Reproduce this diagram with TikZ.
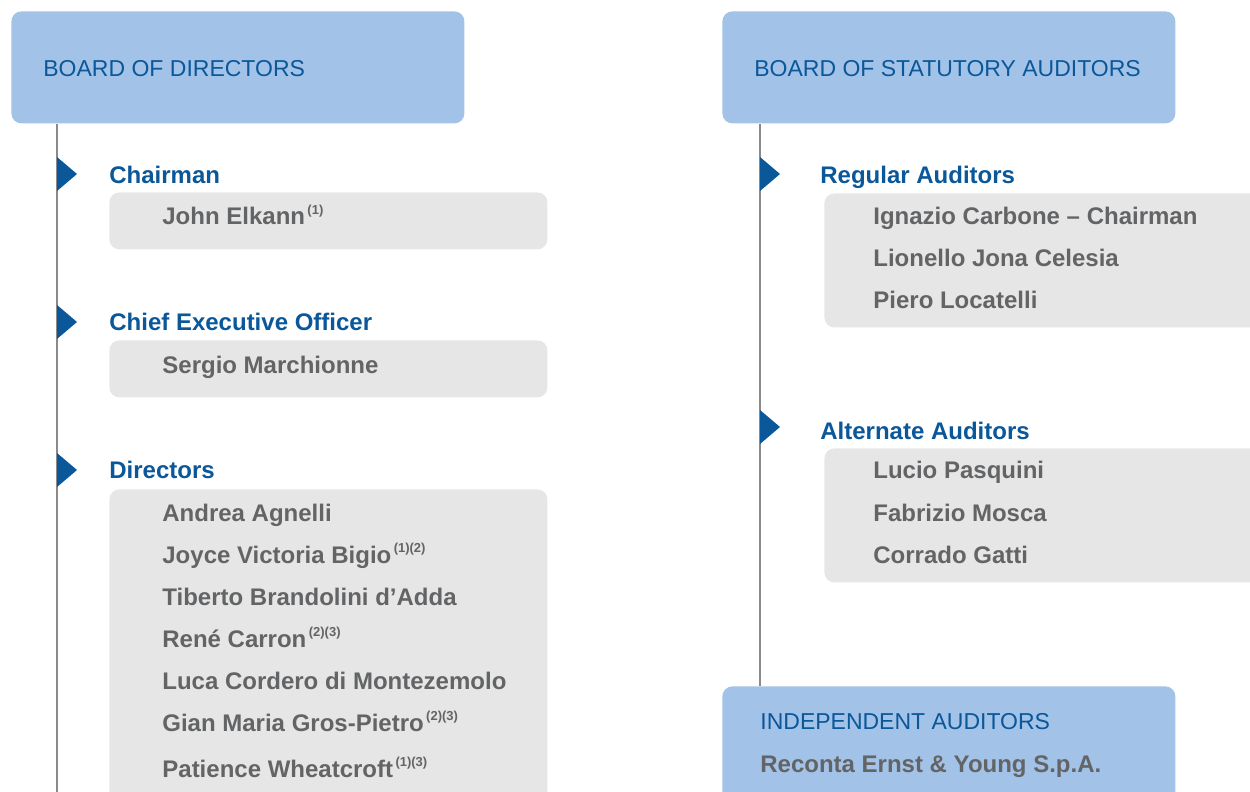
\documentclass[tikz,border=0pt]{standalone}
\usepackage{fontspec}
\setmainfont{Liberation Sans}
\definecolor{hdrfill}{HTML}{A3C2E7}
\definecolor{blu}{HTML}{0A5799}
\definecolor{gtxt}{HTML}{636466}
\definecolor{gfill}{HTML}{E6E6E6}
\definecolor{vl}{HTML}{8A8A8A}
\newcommand{\fnote}[1]{\kern1.2pt\raisebox{0.8ex}{\fontsize{6.5}{7}\selectfont #1}}
\begin{document}
\begin{tikzpicture}[x=0.5pt,y=-0.5pt,
  hdr/.style={fill=hdrfill, rounded corners=5pt, anchor=north west, inner sep=0pt, minimum width=226.5pt, minimum height=56pt},
  gbox/.style={fill=gfill, rounded corners=5pt, anchor=north west, inner sep=0pt},
  htext/.style={anchor=base west, inner sep=0pt, text=blu, font=\fontsize{11.5}{14}\selectfont},
  role/.style={anchor=base west, inner sep=0pt, text=blu, font=\fontsize{12}{14}\selectfont\bfseries},
  pname/.style={anchor=base west, inner sep=0pt, text=gtxt, font=\fontsize{12}{14}\selectfont\bfseries},
  vline/.style={draw=vl, line width=0.7pt},
  tri/.style={fill=blu}]
\useasboundingbox (0,0) rectangle (1250,792);
\clip (0,0) rectangle (1250,792);
% coordinates for the connector lines
\coordinate (lbot) at (57,792);
\coordinate (rx) at (760,0);
% header boxes
\node[hdr] (h1) at (11,11) {};
\node[hdr] (h2) at (722,11) {};
\node[hdr, minimum height=65pt] (ia) at (722,686) {};
% vertical connectors
\draw[vline] (lbot |- h1.south) -- (lbot);
\draw[vline] (rx |- h2.south) -- (rx |- ia.north);
% triangles
\fill[tri] (57,157) -- (77,174) -- (57,191) -- cycle;
\fill[tri] (57,305) -- (77,322) -- (57,339) -- cycle;
\fill[tri] (57,453) -- (77,470) -- (57,487) -- cycle;
\fill[tri] (760,157) -- (780,174) -- (760,191) -- cycle;
\fill[tri] (760,410) -- (780,427) -- (760,444) -- cycle;
% gray boxes
\node[gbox, minimum width=219pt, minimum height=28.5pt] (g1) at (109,192) {};
\node[gbox, minimum width=219pt, minimum height=28.5pt] (g2) at (109,340) {};
\node[gbox, minimum width=219pt, minimum height=165pt] (g3) at (109,489) {};
\node[gbox, minimum width=225pt, minimum height=67pt] (g4) at (824,193) {};
\node[gbox, minimum width=225pt, minimum height=67pt] (g5) at (824,448) {};
% header texts
\node[htext] (t1) at (43,77) {BOARD OF DIRECTORS};
\node[htext] (t2) at (754,77) {BOARD OF STATUTORY AUDITORS};
\node[htext] (t3) at (760,729) {INDEPENDENT AUDITORS};
\node[pname] (t4) at (760,772) {Reconta Ernst \& Young S.p.A.};
% left column
\node[role] (r1) at (109,184) {Chairman};
\node[pname] (n1) at (162,225) {John Elkann\fnote{(1)}};
\node[role] (r2) at (109,331) {Chief Executive Officer};
\node[pname] (n2) at (162,373) {Sergio Marchionne};
\node[role] (r3) at (109,479) {Directors};
\node[pname] (d1) at (162,521) {Andrea Agnelli};
\node[pname] (d2) at (162,563) {Joyce Victoria Bigio\fnote{(1)(2)}};
\node[pname] (d3) at (162,605) {Tiberto Brandolini d’Adda};
\node[pname] (d4) at (162,647) {René Carron\fnote{(2)(3)}};
\node[pname] (d5) at (162,689) {Luca Cordero di Montezemolo};
\node[pname] (d6) at (162,731) {Gian Maria Gros-Pietro\fnote{(2)(3)}};
\node[pname] (d7) at (162,777) {Patience Wheatcroft\fnote{(1)(3)}};
% right column
\node[role] (r4) at (820,184) {Regular Auditors};
\node[pname] (a1) at (873,225) {Ignazio Carbone – Chairman};
\node[pname] (a2) at (873,267) {Lionello Jona Celesia};
\node[pname] (a3) at (873,309) {Piero Locatelli};
\node[role] (r5) at (820,439) {Alternate Auditors};
\node[pname] (b1) at (873,479) {Lucio Pasquini};
\node[pname] (b2) at (873,521) {Fabrizio Mosca};
\node[pname] (b3) at (873,563) {Corrado Gatti};
\end{tikzpicture}
\end{document}
